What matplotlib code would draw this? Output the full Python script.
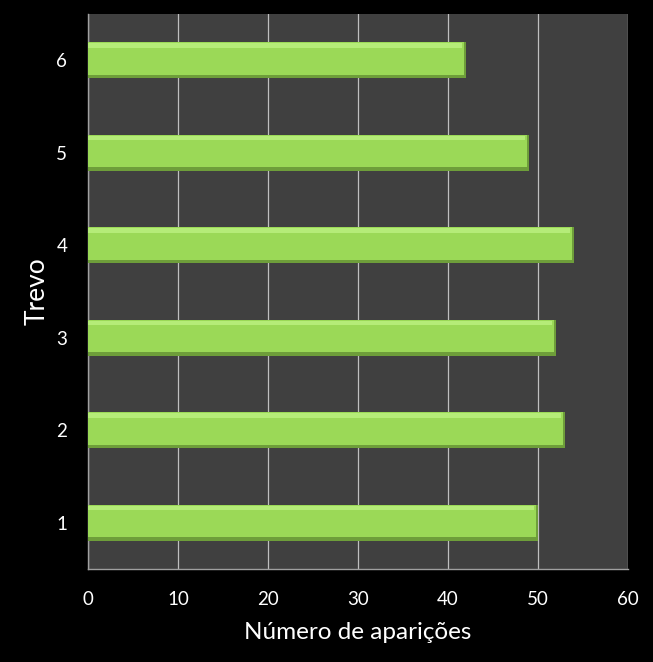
import matplotlib
matplotlib.use("Agg")
import matplotlib.pyplot as plt

categories = ["1", "2", "3", "4", "5", "6"]
values = [50, 53, 52, 54, 49, 42]
xticks = [0, 10, 20, 30, 40, 50, 60]

plt.rcParams['font.family'] = ['Lato', 'DejaVu Sans']

fig = plt.figure(figsize=(6.53, 6.62), dpi=100, facecolor='black')
ax = fig.add_axes([88/653, 93/662, 540/653, 555/662])
ax.set_facecolor('#404040')

pos = list(range(len(categories)))
h = 0.39
# shadow / darker lower edge
ax.barh(pos, values, height=h, color='#6E9E3A', zorder=3)
# main body
ax.barh([p + 0.02 for p in pos], [v - 0.25 for v in values], height=h - 0.04,
        color='#9BD957', zorder=4)
# highlight top strip
ax.barh([p + h/2 - 0.035 for p in pos], [v - 0.5 for v in values], height=0.05,
        color='#B5EC78', zorder=5)

ax.set_xlim(0, 60)
ax.set_ylim(-0.5, 5.5)
ax.set_xticks(xticks)
ax.set_yticks(pos)
ax.set_yticklabels(categories)
ax.xaxis.grid(True, color='#BFBFBF', linewidth=0.9, zorder=1)
ax.set_axisbelow(True)
for s in ['top', 'right']:
    ax.spines[s].set_visible(False)
for s in ['left', 'bottom']:
    ax.spines[s].set_color('#A0A0A0')
    ax.spines[s].set_linewidth(1.0)
ax.tick_params(axis='both', colors='white', labelsize=13.5, length=0)
ax.tick_params(axis='x', pad=16)
ax.tick_params(axis='y', pad=15)
ax.set_xlabel('Número de aparições', color='white', fontsize=17.5, labelpad=10)
ax.set_ylabel('Trevo', color='white', fontsize=19, labelpad=5)

fig.savefig('out.png', dpi=100, facecolor='black')
